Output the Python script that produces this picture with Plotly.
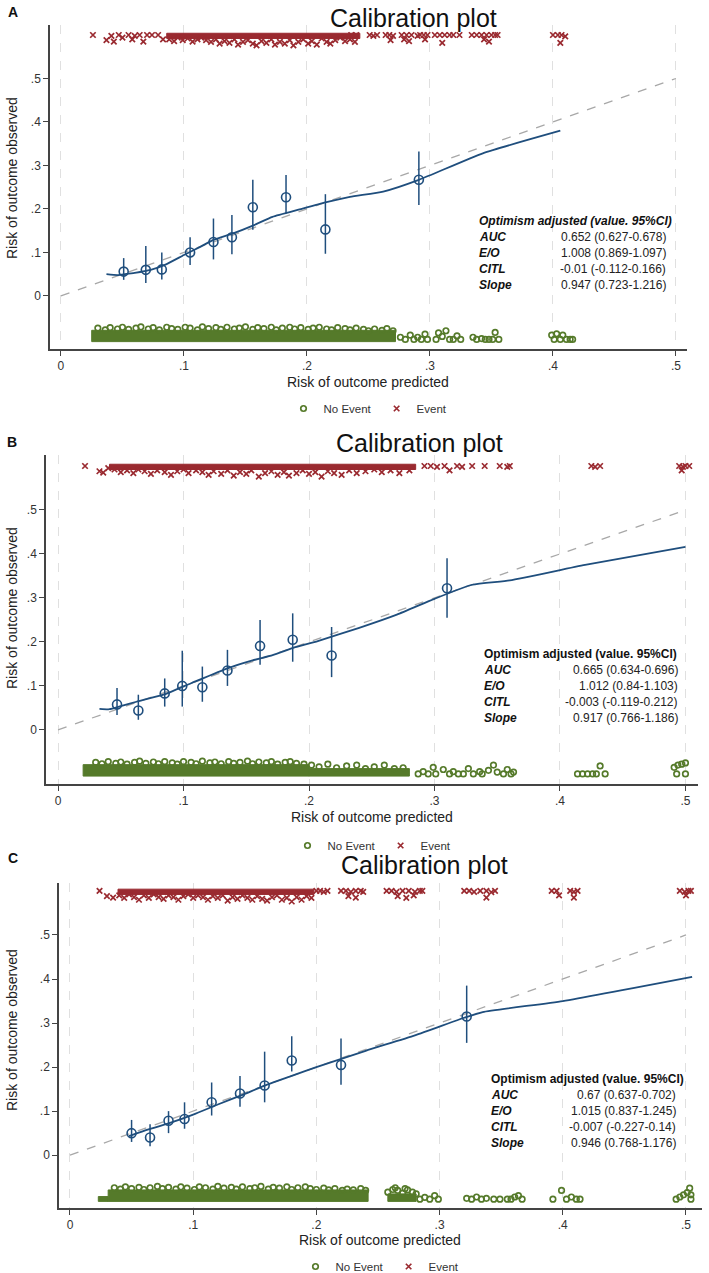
import plotly.graph_objects as go

W, H = 709, 1273
FONT = "Liberation Sans, Arial, sans-serif"
BLUE = "#1f4e7d"
GREEN = "#557a2a"
RED = "#9a2a30"
AXIS = "#444444"

# ---------------- Panel A data ----------------
A_bin_x = [0.051, 0.069, 0.082, 0.105, 0.124, 0.139, 0.156, 0.183, 0.215, 0.291]
A_bin_y = [0.056, 0.060, 0.061, 0.100, 0.124, 0.135, 0.204, 0.227, 0.153, 0.267]
A_bin_lo = [0.037, 0.030, 0.038, 0.071, 0.084, 0.096, 0.152, 0.190, 0.097, 0.209]
A_bin_hi = [0.087, 0.115, 0.100, 0.135, 0.178, 0.186, 0.267, 0.278, 0.234, 0.332]
A_curve_x = [0.037, 0.046, 0.052, 0.060, 0.073, 0.085, 0.100, 0.114, 0.124, 0.140, 0.157, 0.172,
             0.194, 0.215, 0.235, 0.262, 0.291, 0.343, 0.406]
A_curve_y = [0.050, 0.048, 0.050, 0.053, 0.060, 0.072, 0.094, 0.114, 0.129, 0.144, 0.163, 0.182,
             0.199, 0.215, 0.228, 0.240, 0.267, 0.328, 0.380]
# dense rug bands: [start, end, top of band]
A_noev_band = [[0.025, 0.272, -0.079]]
A_noev_x = [0.030, 0.036, 0.040, 0.046, 0.050, 0.055, 0.061, 0.065, 0.071, 0.075, 0.080, 0.086, 0.090, 0.095,
            0.101, 0.105, 0.111, 0.115, 0.120, 0.126, 0.130, 0.135, 0.141, 0.145, 0.150, 0.156, 0.160, 0.165,
            0.171, 0.175, 0.180, 0.186, 0.190, 0.195, 0.201, 0.205, 0.210, 0.216, 0.220, 0.225, 0.231, 0.235,
            0.240, 0.246, 0.250, 0.255, 0.261, 0.265, 0.270,
            0.276, 0.280, 0.284, 0.287, 0.290, 0.293, 0.296, 0.298,
            0.305, 0.307, 0.310, 0.313, 0.316, 0.319, 0.322, 0.325,
            0.335, 0.338, 0.342, 0.345, 0.348, 0.351, 0.353, 0.356,
            0.399, 0.401, 0.403, 0.406, 0.408, 0.411, 0.414, 0.416]
A_noev_y = [-0.074, -0.078, -0.073, -0.076, -0.072, -0.077, -0.074, -0.071, -0.076, -0.073, -0.078, -0.072,
            -0.075, -0.077, -0.072, -0.074, -0.078, -0.071, -0.075, -0.073, -0.077, -0.072, -0.076, -0.074,
            -0.071, -0.077, -0.073, -0.075, -0.072, -0.078, -0.074, -0.072, -0.076, -0.073, -0.077, -0.074,
            -0.072, -0.076, -0.078, -0.073, -0.075, -0.078, -0.074, -0.077, -0.080, -0.076, -0.079, -0.075,
            -0.080,
            -0.095, -0.100, -0.090, -0.100, -0.095, -0.100, -0.088, -0.100,
            -0.100, -0.085, -0.093, -0.080, -0.100, -0.100, -0.092, -0.100,
            -0.095, -0.100, -0.098, -0.100, -0.100, -0.100, -0.084, -0.100,
            -0.090, -0.100, -0.087, -0.100, -0.090, -0.100, -0.100, -0.100]
A_ev_band = [[0.086, 0.243, 0.604]]
A_ev_x = [0.026, 0.037, 0.041, 0.043, 0.047, 0.050, 0.055, 0.058, 0.060, 0.064, 0.067, 0.070, 0.074, 0.079, 0.083,
          0.088, 0.092, 0.095, 0.099, 0.103, 0.107, 0.111, 0.114, 0.118, 0.122, 0.126, 0.129, 0.133, 0.137,
          0.141, 0.144, 0.148, 0.152, 0.156, 0.159, 0.163, 0.167, 0.171, 0.174, 0.178, 0.182, 0.186, 0.189,
          0.193, 0.197, 0.201, 0.204, 0.208, 0.212, 0.216, 0.219, 0.223, 0.227, 0.231, 0.235, 0.239,
          0.236, 0.240, 0.251, 0.254, 0.257, 0.264, 0.267, 0.270, 0.268, 0.277, 0.281, 0.285, 0.290, 0.279,
          0.283, 0.292, 0.295, 0.298, 0.296, 0.304, 0.308, 0.312, 0.316, 0.319, 0.310, 0.324,
          0.334, 0.338, 0.342, 0.346, 0.350, 0.353, 0.355, 0.344, 0.348,
          0.400, 0.404, 0.407, 0.410, 0.406]
A_ev_y = [0.600, 0.588, 0.598, 0.585, 0.600, 0.594, 0.600, 0.590, 0.598, 0.600, 0.585, 0.600, 0.600, 0.600, 0.590,
          0.590, 0.586, 0.594, 0.588, 0.592, 0.585, 0.590, 0.594, 0.588, 0.584, 0.590, 0.580, 0.586, 0.582,
          0.590, 0.578, 0.584, 0.588, 0.580, 0.576, 0.586, 0.582, 0.590, 0.578, 0.584, 0.580, 0.588, 0.576,
          0.584, 0.590, 0.580, 0.586, 0.578, 0.592, 0.584, 0.580, 0.588, 0.594, 0.586, 0.590, 0.584,
          0.600, 0.600, 0.600, 0.598, 0.600, 0.600, 0.600, 0.598, 0.588, 0.600, 0.600, 0.600, 0.598, 0.590,
          0.586, 0.600, 0.600, 0.600, 0.590, 0.600, 0.600, 0.600, 0.600, 0.600, 0.582, 0.600,
          0.600, 0.600, 0.600, 0.600, 0.600, 0.600, 0.600, 0.590, 0.585,
          0.600, 0.600, 0.600, 0.597, 0.582]
A_stat_labels = ["AUC", "E/O", "CITL", "Slope"]
A_stat_values = ["0.652 (0.627-0.678)", "1.008 (0.869-1.097)", "-0.01 (-0.112-0.166)", "0.947 (0.723-1.216)"]

# ---------------- Panel B data ----------------
B_bin_x = [0.047, 0.064, 0.085, 0.099, 0.115, 0.135, 0.161, 0.187, 0.218, 0.310]
B_bin_y = [0.058, 0.044, 0.083, 0.100, 0.097, 0.135, 0.191, 0.205, 0.169, 0.322]
B_bin_lo = [0.034, 0.023, 0.053, 0.053, 0.064, 0.100, 0.148, 0.155, 0.120, 0.255]
B_bin_hi = [0.095, 0.080, 0.117, 0.180, 0.144, 0.182, 0.250, 0.265, 0.234, 0.390]
B_curve_x = [0.033, 0.041, 0.050, 0.0625, 0.084, 0.106, 0.135, 0.155, 0.171, 0.189, 0.207,
             0.240, 0.270, 0.300, 0.330, 0.360, 0.420, 0.500]
B_curve_y = [0.048, 0.047, 0.054, 0.064, 0.080, 0.106, 0.140, 0.158, 0.170, 0.188, 0.202,
             0.232, 0.262, 0.298, 0.330, 0.340, 0.375, 0.416]
B_noev_band = [[0.020, 0.200, -0.079], [0.200, 0.280, -0.088]]
B_noev_x = [0.030, 0.035, 0.040, 0.046, 0.050, 0.055, 0.061, 0.065, 0.070, 0.076, 0.080, 0.085, 0.091, 0.095,
            0.100, 0.106, 0.110, 0.115, 0.121, 0.125, 0.130, 0.136, 0.140, 0.145, 0.151, 0.155, 0.160, 0.166,
            0.170, 0.175, 0.181, 0.185, 0.190, 0.196, 0.202, 0.208, 0.215, 0.222, 0.230, 0.238, 0.245, 0.252,
            0.260, 0.268, 0.275,
            0.287, 0.291, 0.295, 0.299, 0.301, 0.307, 0.312, 0.315, 0.319, 0.323, 0.327, 0.331, 0.336,
            0.338, 0.343, 0.347, 0.350, 0.355, 0.358, 0.361, 0.363,
            0.414, 0.418, 0.422, 0.426, 0.429, 0.432, 0.436, 0.491, 0.494, 0.497, 0.500, 0.493, 0.500]
B_noev_y = [-0.074, -0.077, -0.072, -0.076, -0.073, -0.078, -0.074, -0.071, -0.076, -0.073, -0.077, -0.072,
            -0.075, -0.078, -0.072, -0.074, -0.077, -0.071, -0.075, -0.073, -0.077, -0.072, -0.076, -0.074,
            -0.071, -0.077, -0.073, -0.075, -0.072, -0.078, -0.074, -0.072, -0.076, -0.078, -0.080, -0.084,
            -0.078, -0.086, -0.082, -0.080, -0.088, -0.084, -0.080, -0.088, -0.086,
            -0.100, -0.095, -0.100, -0.085, -0.100, -0.090, -0.100, -0.095, -0.100, -0.100, -0.088, -0.100, -0.095,
            -0.100, -0.092, -0.080, -0.096, -0.100, -0.090, -0.100, -0.096,
            -0.100, -0.100, -0.100, -0.100, -0.100, -0.082, -0.100, -0.085, -0.080, -0.078, -0.075, -0.100, -0.100]
B_ev_band = [[0.041, 0.285, 0.604]]
B_ev_x = [0.0215, 0.033, 0.036, 0.040,
          0.045, 0.050, 0.055, 0.060, 0.064, 0.069, 0.074, 0.079, 0.085, 0.090, 0.095, 0.100, 0.104, 0.110,
          0.115, 0.120, 0.124, 0.130, 0.135, 0.140, 0.145, 0.150, 0.154, 0.160, 0.165, 0.170, 0.175, 0.180,
          0.184, 0.190, 0.195, 0.200, 0.205, 0.210, 0.215, 0.220, 0.226, 0.232, 0.238, 0.245, 0.252, 0.258,
          0.265, 0.272, 0.280,
          0.292, 0.297, 0.302, 0.308, 0.312, 0.318, 0.322, 0.330, 0.340, 0.352, 0.358, 0.360,
          0.425, 0.428, 0.432, 0.495, 0.498, 0.500, 0.503, 0.497]
B_ev_y = [0.600, 0.588, 0.585, 0.595,
          0.592, 0.586, 0.590, 0.584, 0.592, 0.588, 0.582, 0.590, 0.586, 0.580, 0.588, 0.592, 0.584, 0.590,
          0.586, 0.580, 0.588, 0.582, 0.590, 0.578, 0.586, 0.582, 0.590, 0.576, 0.584, 0.588, 0.580, 0.586,
          0.578, 0.584, 0.590, 0.582, 0.586, 0.576, 0.588, 0.584, 0.580, 0.590, 0.584, 0.588, 0.592, 0.586,
          0.590, 0.584, 0.590,
          0.600, 0.600, 0.598, 0.600, 0.590, 0.600, 0.598, 0.600, 0.600, 0.600, 0.598, 0.600,
          0.600, 0.598, 0.600, 0.600, 0.598, 0.600, 0.600, 0.590]
B_stat_labels = ["AUC", "E/O", "CITL", "Slope"]
B_stat_values = ["0.665 (0.634-0.696)", "1.012 (0.84-1.103)", "-0.003 (-0.119-0.212)", "0.917 (0.766-1.186)"]

# ---------------- Panel C data ----------------
C_bin_x = [0.050, 0.065, 0.080, 0.093, 0.115, 0.138, 0.158, 0.180, 0.220, 0.322]
C_bin_y = [0.050, 0.040, 0.078, 0.082, 0.120, 0.140, 0.158, 0.215, 0.205, 0.315]
C_bin_lo = [0.030, 0.020, 0.050, 0.060, 0.090, 0.110, 0.120, 0.190, 0.160, 0.255]
C_bin_hi = [0.080, 0.070, 0.100, 0.120, 0.165, 0.180, 0.235, 0.270, 0.265, 0.385]
C_curve_x = [0.048, 0.060, 0.080, 0.100, 0.120, 0.140, 0.160, 0.180, 0.200, 0.240, 0.280, 0.320,
             0.335, 0.400, 0.505]
C_curve_y = [0.043, 0.055, 0.072, 0.092, 0.115, 0.137, 0.160, 0.180, 0.200, 0.237, 0.272, 0.312,
             0.325, 0.350, 0.405]
C_noev_band = [[0.023, 0.031, -0.094], [0.031, 0.242, -0.079], [0.258, 0.281, -0.088]]
C_noev_x = [0.036, 0.041, 0.045, 0.050, 0.056, 0.060, 0.065, 0.071, 0.075, 0.080, 0.086, 0.090, 0.095,
            0.101, 0.105, 0.110, 0.116, 0.120, 0.125, 0.131, 0.135, 0.140, 0.146, 0.150, 0.155, 0.161,
            0.165, 0.170, 0.176, 0.180, 0.185, 0.191, 0.195, 0.200, 0.206, 0.210, 0.215, 0.221, 0.225,
            0.230, 0.236, 0.240,
            0.258, 0.262, 0.266, 0.270, 0.274, 0.278, 0.281, 0.264, 0.272,
            0.284, 0.288, 0.292, 0.296, 0.299,
            0.322, 0.326, 0.330, 0.334, 0.338, 0.344, 0.349, 0.355, 0.358, 0.361, 0.364, 0.367,
            0.392, 0.399, 0.403, 0.407, 0.411, 0.414,
            0.492, 0.495, 0.498, 0.501, 0.503, 0.504, 0.504]
C_noev_y = [-0.074, -0.077, -0.072, -0.076, -0.073, -0.078, -0.074, -0.071, -0.076, -0.073, -0.077, -0.072,
            -0.075, -0.078, -0.072, -0.074, -0.077, -0.071, -0.075, -0.073, -0.077, -0.072, -0.076, -0.074,
            -0.071, -0.077, -0.073, -0.075, -0.072, -0.078, -0.074, -0.072, -0.076, -0.078, -0.075, -0.079,
            -0.076, -0.080, -0.077, -0.079, -0.076, -0.080,
            -0.084, -0.078, -0.080, -0.086, -0.079, -0.084, -0.088, -0.074, -0.076,
            -0.100, -0.096, -0.100, -0.092, -0.100,
            -0.098, -0.100, -0.095, -0.100, -0.098, -0.100, -0.100, -0.100, -0.100, -0.095, -0.092, -0.100,
            -0.100, -0.080, -0.100, -0.095, -0.100, -0.100,
            -0.100, -0.095, -0.090, -0.085, -0.075, -0.100, -0.090]
C_ev_band = [[0.039, 0.198, 0.604]]
C_ev_x = [0.024, 0.030, 0.035,
          0.040, 0.044, 0.048, 0.052, 0.056, 0.060, 0.064, 0.068, 0.072, 0.076, 0.080, 0.084, 0.088, 0.092,
          0.096, 0.100, 0.104, 0.108, 0.112, 0.116, 0.120, 0.124, 0.128, 0.132, 0.136, 0.140, 0.144, 0.148,
          0.152, 0.156, 0.160, 0.164, 0.168, 0.172, 0.176, 0.180, 0.184, 0.188, 0.192, 0.196,
          0.200, 0.203, 0.206, 0.209, 0.220, 0.224, 0.228, 0.232, 0.236, 0.238, 0.226, 0.232,
          0.257, 0.261, 0.265, 0.270, 0.275, 0.280, 0.284, 0.286, 0.266, 0.273, 0.279,
          0.320, 0.324, 0.328, 0.333, 0.338, 0.342, 0.345, 0.338,
          0.391, 0.395, 0.397, 0.406, 0.409, 0.412, 0.409,
          0.495, 0.499, 0.502, 0.504, 0.500]
C_ev_y = [0.600, 0.588, 0.585,
          0.590, 0.584, 0.592, 0.586, 0.580, 0.590, 0.584, 0.592, 0.586, 0.582, 0.590, 0.586, 0.580, 0.588,
          0.592, 0.584, 0.590, 0.586, 0.580, 0.588, 0.584, 0.590, 0.578, 0.586, 0.582, 0.590, 0.584, 0.580,
          0.588, 0.582, 0.578, 0.586, 0.590, 0.580, 0.584, 0.576, 0.586, 0.580, 0.588, 0.584,
          0.600, 0.600, 0.598, 0.600, 0.600, 0.600, 0.598, 0.600, 0.600, 0.598, 0.588, 0.585,
          0.600, 0.600, 0.598, 0.600, 0.600, 0.598, 0.600, 0.600, 0.588, 0.584, 0.590,
          0.600, 0.600, 0.598, 0.600, 0.600, 0.597, 0.600, 0.585,
          0.600, 0.600, 0.590, 0.600, 0.598, 0.600, 0.585,
          0.600, 0.598, 0.600, 0.600, 0.590]
C_stat_labels = ["AUC", "E/O", "CITL", "Slope"]
C_stat_values = ["0.67 (0.637-0.702)", "1.015 (0.837-1.245)", "-0.007 (-0.227-0.14)", "0.946 (0.768-1.176)"]

diag_x = [0.0, 0.5]
tick_vals = [0, 0.1, 0.2, 0.3, 0.4, 0.5]
tick_text = ["0", ".1", ".2", ".3", ".4", ".5"]
NOEV_BOTTOM = -0.105
EV_BOTTOM = 0.592

# ---------------- layout geometry (pixels) ----------------
panels = [
    dict(key="A", plot=(50, 687, 25, 349), xr=[-0.0089, 0.509], yr=[-0.122, 0.623],
         title=(413, 18), letter=(13, 12), ytitle=(12, 178), xtitle=(368, 382), legend=(368, 423),
         table=(477, 221, 668), header_italic=True,
         data=(A_bin_x, A_bin_y, A_bin_lo, A_bin_hi, A_curve_x, A_curve_y, A_noev_band, A_noev_x, A_noev_y,
               A_ev_band, A_ev_x, A_ev_y, A_stat_labels, A_stat_values)),
    dict(key="B", plot=(46, 698, 455, 784), xr=[-0.0096, 0.510], yr=[-0.123, 0.625],
         title=(419, 443), letter=(12, 442), ytitle=(12, 608), xtitle=(372, 817), legend=(372, 860),
         table=(482, 654, 680), header_italic=False,
         data=(B_bin_x, B_bin_y, B_bin_lo, B_bin_hi, B_curve_x, B_curve_y, B_noev_band, B_noev_x, B_noev_y,
               B_ev_band, B_ev_x, B_ev_y, B_stat_labels, B_stat_values)),
    dict(key="C", plot=(59, 702, 883, 1208), xr=[-0.0089, 0.513], yr=[-0.120, 0.618],
         title=(425, 865), letter=(13, 858), ytitle=(12, 1030), xtitle=(380, 1240), legend=(380, 1281),
         table=(489, 1079, 678), header_italic=False,
         data=(C_bin_x, C_bin_y, C_bin_lo, C_bin_hi, C_curve_x, C_curve_y, C_noev_band, C_noev_x, C_noev_y,
               C_ev_band, C_ev_x, C_ev_y, C_stat_labels, C_stat_values)),
]

fig = go.Figure()
annotations = []
layout = dict(width=W, height=H, margin=dict(l=0, r=0, t=0, b=0, autoexpand=False), paper_bgcolor="white",
              plot_bgcolor="white", font=dict(family=FONT, color="#222"), showlegend=True)


def px(x):
    return x / W


def py(y):
    return 1 - y / H


for i, p in enumerate(panels):
    n = "" if i == 0 else str(i + 1)
    xa, ya = "x" + n, "y" + n
    (bx, by, blo, bhi, cx, cy, nb, nx, ny, eb, ex, ey, slab, sval) = p["data"]
    leg = "legend" + n
    x0, x1, y0, y1 = p["plot"]
    layout["xaxis" + n] = dict(domain=[px(x0), px(x1)], range=p["xr"], anchor=ya, tickvals=tick_vals,
                               ticktext=tick_text, ticks="outside", ticklen=5, tickcolor=AXIS, tickwidth=1.3,
                               showline=True, linecolor=AXIS, linewidth=1.5, showgrid=True,
                               gridcolor="#e0e0e0", griddash="dash", gridwidth=1.3, zeroline=False,
                               tickfont=dict(size=12, color="#333"), fixedrange=True)
    layout["yaxis" + n] = dict(domain=[py(y1), py(y0)], range=p["yr"], anchor=xa, tickvals=tick_vals,
                               ticktext=tick_text, ticks="outside", ticklen=5, tickcolor=AXIS, tickwidth=1.3,
                               showline=True, linecolor=AXIS, linewidth=1.5, showgrid=False, zeroline=False,
                               tickfont=dict(size=12, color="#333"), fixedrange=True)
    lx, ly = p["legend"]
    layout[leg] = dict(orientation="h", x=px(lx), y=py(ly), xanchor="center", yanchor="bottom",
                       font=dict(size=11.5, color="#333"), bgcolor="rgba(0,0,0,0)", itemwidth=30,
                       tracegroupgap=0)

    # reference diagonal
    fig.add_trace(go.Scatter(x=diag_x, y=diag_x, mode="lines", xaxis=xa, yaxis=ya, showlegend=False,
                             line=dict(color="#a8a8a8", width=1.3, dash="dash"), hoverinfo="skip"))
    # dense rug bands (no event / event)
    for (s0, s1, top) in nb:
        fig.add_trace(go.Scatter(x=[s0, s1, s1, s0, s0], y=[NOEV_BOTTOM, NOEV_BOTTOM, top, top, NOEV_BOTTOM],
                                 mode="lines", fill="toself", fillcolor=GREEN, xaxis=xa, yaxis=ya,
                                 showlegend=False, line=dict(color=GREEN, width=1), hoverinfo="skip"))
    for (s0, s1, top) in eb:
        fig.add_trace(go.Scatter(x=[s0, s1, s1, s0, s0], y=[EV_BOTTOM, EV_BOTTOM, top, top, EV_BOTTOM],
                                 mode="lines", fill="toself", fillcolor=RED, xaxis=xa, yaxis=ya,
                                 showlegend=False, line=dict(color=RED, width=1), hoverinfo="skip"))
    fig.add_trace(go.Scatter(x=nx, y=ny, mode="markers", name="No Event", xaxis=xa, yaxis=ya, legend=leg,
                             marker=dict(symbol="circle-open", size=5.5, color=GREEN, line=dict(width=1.7))))
    fig.add_trace(go.Scatter(x=ex, y=ey, mode="markers", name="Event", xaxis=xa, yaxis=ya, legend=leg,
                             marker=dict(symbol="x-thin-open", size=5.5, color=RED, line=dict(width=1.7))))
    # smoothed calibration curve
    fig.add_trace(go.Scatter(x=cx, y=cy, mode="lines", xaxis=xa, yaxis=ya, showlegend=False,
                             line=dict(color=BLUE, width=1.8, shape="spline", smoothing=0.5)))
    # grouped observations with CI
    fig.add_trace(go.Scatter(x=bx, y=by, mode="markers", xaxis=xa, yaxis=ya, showlegend=False,
                             marker=dict(symbol="circle-open", size=9, color=BLUE, line=dict(width=1.6)),
                             error_y=dict(type="data", array=[h - v for h, v in zip(bhi, by)],
                                          arrayminus=[v - l for v, l in zip(by, blo)], width=0,
                                          thickness=1.5, color=BLUE)))

    tx, ty = p["title"]
    annotations.append(dict(text="Calibration plot", x=px(tx), y=py(ty), xref="paper", yref="paper",
                            showarrow=False, xanchor="center", yanchor="middle",
                            font=dict(size=25, color="#111", family=FONT)))
    lx_, ly_ = p["letter"]
    annotations.append(dict(text="<b>%s</b>" % p["key"], x=px(lx_), y=py(ly_), xref="paper", yref="paper",
                            showarrow=False, xanchor="center", yanchor="middle",
                            font=dict(size=14, color="#111", family=FONT)))
    yx, yy = p["ytitle"]
    annotations.append(dict(text="Risk of outcome observed", x=px(yx), y=py(yy), xref="paper", yref="paper",
                            showarrow=False, textangle=-90, xanchor="center", yanchor="middle",
                            font=dict(size=14, color="#222", family=FONT)))
    xx, xy = p["xtitle"]
    annotations.append(dict(text="Risk of outcome predicted", x=px(xx), y=py(xy), xref="paper", yref="paper",
                            showarrow=False, xanchor="center", yanchor="middle",
                            font=dict(size=14, color="#222", family=FONT)))
    hx, hy, rx = p["table"]
    head = "Optimism adjusted (value. 95%CI)"
    head = "<b><i>%s</i></b>" % head if p["header_italic"] else "<b>%s</b>" % head
    annotations.append(dict(text=head, x=px(hx), y=py(hy), xref="paper", yref="paper", showarrow=False,
                            xanchor="left", yanchor="middle", font=dict(size=12, color="#111", family=FONT)))
    for k, (lab, val) in enumerate(zip(slab, sval)):
        ry = hy + 16 * (k + 1)
        annotations.append(dict(text="<b><i>%s</i></b>" % lab, x=px(hx), y=py(ry), xref="paper", yref="paper",
                                showarrow=False, xanchor="left", yanchor="middle",
                                font=dict(size=12, color="#111", family=FONT)))
        annotations.append(dict(text=val, x=px(rx), y=py(ry), xref="paper", yref="paper", showarrow=False,
                                xanchor="right", yanchor="middle", font=dict(size=12, color="#222", family=FONT)))

layout["annotations"] = annotations
fig.update_layout(**layout)
fig.write_html("out.html")
